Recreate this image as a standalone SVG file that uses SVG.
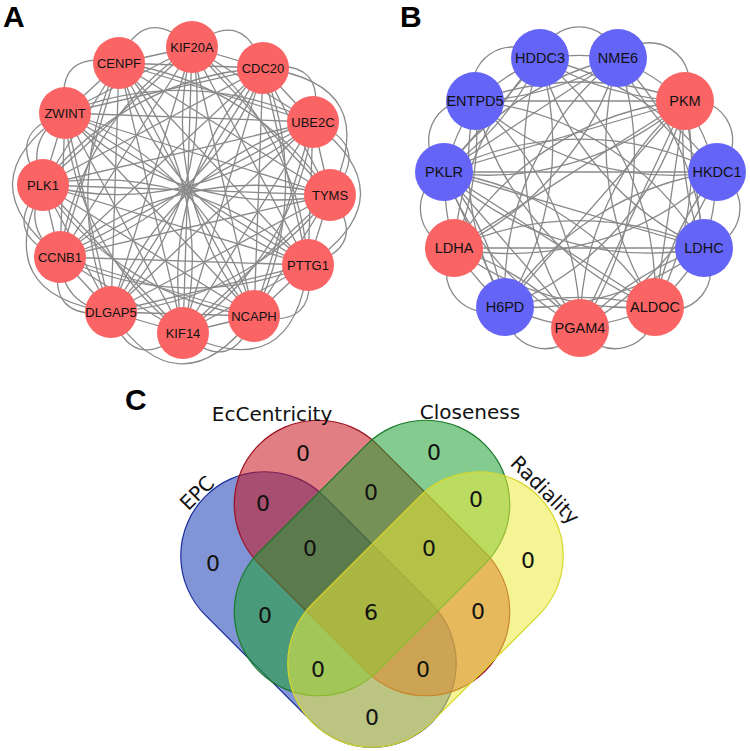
<svg xmlns="http://www.w3.org/2000/svg" width="750" height="751" viewBox="0 0 750 751">
<defs>
<style>
.e{fill:none;stroke:#898989;stroke-width:1.3}
.nr{fill:#FA6464}
.nb{fill:#6464F6}
.la{font-family:"Liberation Sans",Arial,sans-serif;font-size:13px;fill:#111;text-anchor:middle}
.lb{font-family:"Liberation Sans",Arial,sans-serif;font-size:14.5px;fill:#111;text-anchor:middle}
.pl{font-family:"Liberation Sans",Arial,sans-serif;font-size:30px;font-weight:bold;fill:#000}
.vn{font-family:"DejaVu Sans",sans-serif;font-size:22px;fill:#111;text-anchor:middle}
.vl{font-family:"DejaVu Sans",sans-serif;font-size:20px;fill:#111;text-anchor:middle}
</style>
</defs>
<rect width="750" height="751" fill="#fff"/>
<text class="pl" x="3" y="27">A</text>
<text class="pl" x="400" y="27">B</text>
<text class="pl" x="125" y="410">C</text>

<g id="edges-A">
<path class="e" d="M192 47L263 68"/><path class="e" d="M192 47L313 122"/><path class="e" d="M192 47L330 195"/><path class="e" d="M192 47L308 265"/><path class="e" d="M192 47L254 316"/><path class="e" d="M192 47L183 333"/><path class="e" d="M192 47L111 312"/><path class="e" d="M192 47L60 257"/><path class="e" d="M192 47L43 185"/><path class="e" d="M192 47L65 113"/><path class="e" d="M192 47L119 63"/>
<path class="e" d="M263 68L313 122"/><path class="e" d="M263 68L330 195"/><path class="e" d="M263 68L308 265"/><path class="e" d="M263 68L254 316"/><path class="e" d="M263 68L183 333"/><path class="e" d="M263 68L111 312"/><path class="e" d="M263 68L60 257"/><path class="e" d="M263 68L43 185"/><path class="e" d="M263 68L65 113"/><path class="e" d="M263 68L119 63"/>
<path class="e" d="M313 122L330 195"/><path class="e" d="M313 122L308 265"/><path class="e" d="M313 122L254 316"/><path class="e" d="M313 122L183 333"/><path class="e" d="M313 122L111 312"/><path class="e" d="M313 122L60 257"/><path class="e" d="M313 122L43 185"/><path class="e" d="M313 122L65 113"/><path class="e" d="M313 122L119 63"/>
<path class="e" d="M330 195L308 265"/><path class="e" d="M330 195L254 316"/><path class="e" d="M330 195L183 333"/><path class="e" d="M330 195L111 312"/><path class="e" d="M330 195L60 257"/><path class="e" d="M330 195L43 185"/><path class="e" d="M330 195L65 113"/><path class="e" d="M330 195L119 63"/>
<path class="e" d="M308 265L254 316"/><path class="e" d="M308 265L183 333"/><path class="e" d="M308 265L111 312"/><path class="e" d="M308 265L60 257"/><path class="e" d="M308 265L43 185"/><path class="e" d="M308 265L65 113"/><path class="e" d="M308 265L119 63"/>
<path class="e" d="M254 316L183 333"/><path class="e" d="M254 316L111 312"/><path class="e" d="M254 316L60 257"/><path class="e" d="M254 316L43 185"/><path class="e" d="M254 316L65 113"/><path class="e" d="M254 316L119 63"/>
<path class="e" d="M183 333L111 312"/><path class="e" d="M183 333L60 257"/><path class="e" d="M183 333L43 185"/><path class="e" d="M183 333L65 113"/><path class="e" d="M183 333L119 63"/>
<path class="e" d="M111 312L60 257"/><path class="e" d="M111 312L43 185"/><path class="e" d="M111 312L65 113"/><path class="e" d="M111 312L119 63"/>
<path class="e" d="M60 257L43 185"/><path class="e" d="M60 257L65 113"/><path class="e" d="M60 257L119 63"/>
<path class="e" d="M43 185L65 113"/><path class="e" d="M43 185L119 63"/>
<path class="e" d="M65 113L119 63"/>
<path class="e" d="M192 47A300 300 0 0 1 308 265"/><path class="e" d="M263 68A300 300 0 0 1 254 316"/><path class="e" d="M313 122A300 300 0 0 1 183 333"/><path class="e" d="M330 195A300 300 0 0 1 111 312"/><path class="e" d="M308 265A300 300 0 0 1 60 257"/><path class="e" d="M254 316A300 300 0 0 1 43 185"/><path class="e" d="M183 333A300 300 0 0 1 65 113"/><path class="e" d="M111 312A300 300 0 0 1 119 63"/><path class="e" d="M60 257A300 300 0 0 1 192 47"/><path class="e" d="M43 185A300 300 0 0 1 263 68"/><path class="e" d="M65 113A300 300 0 0 1 313 122"/><path class="e" d="M119 63A300 300 0 0 1 330 195"/>
<path class="e" d="M192 47A300 300 0 0 0 254 316"/><path class="e" d="M263 68A300 300 0 0 0 183 333"/><path class="e" d="M313 122A300 300 0 0 0 111 312"/><path class="e" d="M330 195A300 300 0 0 0 60 257"/><path class="e" d="M308 265A300 300 0 0 0 43 185"/><path class="e" d="M254 316A300 300 0 0 0 65 113"/><path class="e" d="M183 333A300 300 0 0 0 119 63"/><path class="e" d="M111 312A300 300 0 0 0 192 47"/><path class="e" d="M60 257A300 300 0 0 0 263 68"/><path class="e" d="M43 185A300 300 0 0 0 313 122"/><path class="e" d="M65 113A300 300 0 0 0 330 195"/><path class="e" d="M119 63A300 300 0 0 0 308 265"/>
<path class="e" d="M192 47Q243.6 4.9 263 68"/><path class="e" d="M263 68Q328 57.3 313 122"/><path class="e" d="M313 122Q375.1 146 330 195"/><path class="e" d="M330 195Q371.6 246 308 265"/><path class="e" d="M308 265Q318.6 330.7 254 316"/><path class="e" d="M254 316Q231 378 183 333"/><path class="e" d="M183 333Q131.1 375.1 111 312"/><path class="e" d="M111 312Q45.2 322 60 257"/><path class="e" d="M60 257Q-2.1 233.3 43 185"/><path class="e" d="M43 185Q1.5 132.8 65 113"/><path class="e" d="M65 113Q54.5 47.7 119 63"/><path class="e" d="M119 63Q143 1.4 192 47"/>
<path class="e" d="M111 312Q62.1 306.3 60 257"/><path class="e" d="M60 257Q20.3 228.1 43 185"/><path class="e" d="M43 185Q23.4 139.6 65 113"/>
<path class="e" d="M313 122Q410.4 196.3 308 265"/><path class="e" d="M263 68Q384.7 84.4 330 195"/><path class="e" d="M60 257Q-37.4 181 65 113"/><path class="e" d="M111 312Q-11.3 295.5 43 185"/><path class="e" d="M308 265Q292.8 387.1 183 333"/><path class="e" d="M254 316Q178.9 413.9 111 312"/>
</g>

<g id="nodes-A">
<g id="A-KIF20A"><circle class="nr" cx="192" cy="47" r="26"/><text class="la" x="192" y="52">KIF20A</text></g>
<g id="A-CDC20"><circle class="nr" cx="263" cy="68" r="26"/><text class="la" x="263" y="73">CDC20</text></g>
<g id="A-UBE2C"><circle class="nr" cx="313" cy="122" r="26"/><text class="la" x="313" y="127">UBE2C</text></g>
<g id="A-TYMS"><circle class="nr" cx="330" cy="195" r="26"/><text class="la" x="330" y="200">TYMS</text></g>
<g id="A-PTTG1"><circle class="nr" cx="308" cy="265" r="26"/><text class="la" x="308" y="270">PTTG1</text></g>
<g id="A-NCAPH"><circle class="nr" cx="254" cy="316" r="26"/><text class="la" x="254" y="321">NCAPH</text></g>
<g id="A-KIF14"><circle class="nr" cx="183" cy="333" r="26"/><text class="la" x="183" y="338">KIF14</text></g>
<g id="A-DLGAP5"><circle class="nr" cx="111" cy="312" r="26"/><text class="la" x="111" y="317">DLGAP5</text></g>
<g id="A-CCNB1"><circle class="nr" cx="60" cy="257" r="26"/><text class="la" x="60" y="262">CCNB1</text></g>
<g id="A-PLK1"><circle class="nr" cx="43" cy="185" r="26"/><text class="la" x="43" y="190">PLK1</text></g>
<g id="A-ZWINT"><circle class="nr" cx="65" cy="113" r="26"/><text class="la" x="65" y="118">ZWINT</text></g>
<g id="A-CENPF"><circle class="nr" cx="119" cy="63" r="26"/><text class="la" x="119" y="68">CENPF</text></g>
</g>

<g id="edges-B">
<path class="e" d="M540 58A40 40 0 0 1 618 58"/><path class="e" d="M618 58A40 40 0 0 1 685 101"/><path class="e" d="M685 101A40 40 0 0 1 717 172"/><path class="e" d="M717 172A40 40 0 0 1 704 248"/><path class="e" d="M704 248A40 40 0 0 1 655 307"/><path class="e" d="M655 307A40 40 0 0 1 580 328"/><path class="e" d="M580 328A40 40 0 0 1 505 307"/><path class="e" d="M505 307A40 40 0 0 1 454 248"/><path class="e" d="M454 248A40 40 0 0 1 444 172"/><path class="e" d="M444 172A40 40 0 0 1 475 101"/><path class="e" d="M475 101A40 40 0 0 1 540 58"/>
<path class="e" d="M540 58A300 300 0 0 1 618 58"/><path class="e" d="M540 58A300 300 0 0 0 685 101"/><path class="e" d="M540 58A300 300 0 0 1 717 172"/><path class="e" d="M540 58A300 300 0 0 0 704 248"/><path class="e" d="M540 58A300 300 0 0 1 655 307"/><path class="e" d="M540 58A300 300 0 0 0 580 328"/><path class="e" d="M540 58A300 300 0 0 1 505 307"/><path class="e" d="M540 58A300 300 0 0 0 454 248"/><path class="e" d="M540 58A300 300 0 0 1 444 172"/><path class="e" d="M540 58A300 300 0 0 0 475 101"/>
<path class="e" d="M618 58A300 300 0 0 1 685 101"/><path class="e" d="M618 58A300 300 0 0 0 717 172"/><path class="e" d="M618 58A300 300 0 0 1 704 248"/><path class="e" d="M618 58A300 300 0 0 0 655 307"/><path class="e" d="M618 58A300 300 0 0 1 580 328"/><path class="e" d="M618 58A300 300 0 0 0 505 307"/><path class="e" d="M618 58A300 300 0 0 1 454 248"/><path class="e" d="M618 58A300 300 0 0 0 444 172"/><path class="e" d="M618 58A300 300 0 0 1 475 101"/>
<path class="e" d="M685 101A300 300 0 0 1 717 172"/><path class="e" d="M685 101A300 300 0 0 0 704 248"/><path class="e" d="M685 101A300 300 0 0 1 655 307"/><path class="e" d="M685 101A300 300 0 0 0 580 328"/><path class="e" d="M685 101A300 300 0 0 1 505 307"/><path class="e" d="M685 101A300 300 0 0 0 454 248"/><path class="e" d="M685 101A300 300 0 0 1 444 172"/><path class="e" d="M685 101A300 300 0 0 0 475 101"/>
<path class="e" d="M717 172A300 300 0 0 1 704 248"/><path class="e" d="M717 172A300 300 0 0 0 655 307"/><path class="e" d="M717 172A300 300 0 0 1 580 328"/><path class="e" d="M717 172A300 300 0 0 0 505 307"/><path class="e" d="M717 172A300 300 0 0 1 454 248"/><path class="e" d="M717 172A300 300 0 0 0 444 172"/><path class="e" d="M717 172A300 300 0 0 1 475 101"/>
<path class="e" d="M704 248A300 300 0 0 1 655 307"/><path class="e" d="M704 248A300 300 0 0 0 580 328"/><path class="e" d="M704 248A300 300 0 0 1 505 307"/><path class="e" d="M704 248A300 300 0 0 0 454 248"/><path class="e" d="M704 248A300 300 0 0 1 444 172"/><path class="e" d="M704 248A300 300 0 0 0 475 101"/>
<path class="e" d="M655 307A300 300 0 0 1 580 328"/><path class="e" d="M655 307A300 300 0 0 0 505 307"/><path class="e" d="M655 307A300 300 0 0 1 454 248"/><path class="e" d="M655 307A300 300 0 0 0 444 172"/><path class="e" d="M655 307A300 300 0 0 1 475 101"/>
<path class="e" d="M580 328A300 300 0 0 1 505 307"/><path class="e" d="M580 328A300 300 0 0 0 454 248"/><path class="e" d="M580 328A300 300 0 0 1 444 172"/><path class="e" d="M580 328A300 300 0 0 0 475 101"/>
<path class="e" d="M505 307A300 300 0 0 1 454 248"/><path class="e" d="M505 307A300 300 0 0 0 444 172"/><path class="e" d="M505 307A300 300 0 0 1 475 101"/>
<path class="e" d="M454 248A300 300 0 0 1 444 172"/><path class="e" d="M454 248A300 300 0 0 0 475 101"/>
<path class="e" d="M444 172A300 300 0 0 1 475 101"/>
<path class="e" d="M685 101L475 101"/><path class="e" d="M444 172L717 172"/><path class="e" d="M454 248L704 248"/>
<path class="e" d="M685 101L444 172"/><path class="e" d="M685 101L454 248"/><path class="e" d="M685 101L505 307"/><path class="e" d="M685 101L580 328"/><path class="e" d="M685 101L655 307"/><path class="e" d="M685 101L704 248"/>
<path class="e" d="M444 172L540 58"/><path class="e" d="M444 172L618 58"/><path class="e" d="M444 172L704 248"/><path class="e" d="M444 172L655 307"/><path class="e" d="M444 172L580 328"/><path class="e" d="M444 172L505 307"/>
</g>

<g id="nodes-B">
<g id="B-HDDC3"><circle class="nb" cx="540" cy="58" r="29"/><text class="lb" x="540" y="63">HDDC3</text></g>
<g id="B-NME6"><circle class="nb" cx="618" cy="58" r="29"/><text class="lb" x="618" y="63">NME6</text></g>
<g id="B-PKM"><circle class="nr" cx="685" cy="101" r="29"/><text class="lb" x="685" y="106">PKM</text></g>
<g id="B-HKDC1"><circle class="nb" cx="717" cy="172" r="29"/><text class="lb" x="717" y="177">HKDC1</text></g>
<g id="B-LDHC"><circle class="nb" cx="704" cy="248" r="29"/><text class="lb" x="704" y="253">LDHC</text></g>
<g id="B-ALDOC"><circle class="nr" cx="655" cy="307" r="29"/><text class="lb" x="655" y="312">ALDOC</text></g>
<g id="B-PGAM4"><circle class="nr" cx="580" cy="328" r="29"/><text class="lb" x="580" y="333">PGAM4</text></g>
<g id="B-H6PD"><circle class="nb" cx="505" cy="307" r="29"/><text class="lb" x="505" y="312">H6PD</text></g>
<g id="B-LDHA"><circle class="nr" cx="454" cy="248" r="29"/><text class="lb" x="454" y="253">LDHA</text></g>
<g id="B-PKLR"><circle class="nb" cx="444" cy="172" r="29"/><text class="lb" x="444" y="177">PKLR</text></g>
<g id="B-ENTPD5"><circle class="nb" cx="475" cy="101" r="29"/><text class="lb" x="475" y="106">ENTPD5</text></g>
</g>

<g id="venn">
<rect x="-160" y="-84" width="320" height="168" rx="84" transform="translate(318.5,609.5) rotate(45)" fill="rgb(25,60,180)" fill-opacity="0.55" stroke="#1c2c9c" stroke-width="1.2"/>
<rect x="-160" y="-84" width="320" height="168" rx="84" transform="translate(372,558) rotate(45)" fill="rgb(200,20,30)" fill-opacity="0.55" stroke="#9c1020" stroke-width="1.2"/>
<rect x="-160" y="-84" width="320" height="168" rx="84" transform="translate(372,558) rotate(-45)" fill="rgb(30,160,50)" fill-opacity="0.55" stroke="#1a7a2a" stroke-width="1.2"/>
<rect x="-160" y="-84" width="320" height="168" rx="84" transform="translate(425.5,609.5) rotate(-45)" fill="rgb(235,235,60)" fill-opacity="0.55" stroke="#d6d62a" stroke-width="1.2"/>
<text class="vl" x="272" y="421">EcCentricity</text>
<text class="vl" x="470" y="419">Closeness</text>
<text class="vl" transform="translate(197,493) rotate(-45)" dy="7">EPC</text>
<text class="vl" transform="translate(545,490) rotate(45)" dy="7">Radiality</text>
<text class="vn" x="303" y="461">0</text>
<text class="vn" x="434" y="460">0</text>
<text class="vn" x="263" y="511">0</text>
<text class="vn" x="371" y="500">0</text>
<text class="vn" x="476" y="507">0</text>
<text class="vn" x="213" y="571">0</text>
<text class="vn" x="310" y="556">0</text>
<text class="vn" x="429" y="556">0</text>
<text class="vn" x="528" y="568">0</text>
<text class="vn" x="265" y="623">0</text>
<text class="vn" x="371" y="620">6</text>
<text class="vn" x="478" y="619">0</text>
<text class="vn" x="318" y="677">0</text>
<text class="vn" x="423" y="677">0</text>
<text class="vn" x="372" y="725">0</text>
</g>
</svg>
